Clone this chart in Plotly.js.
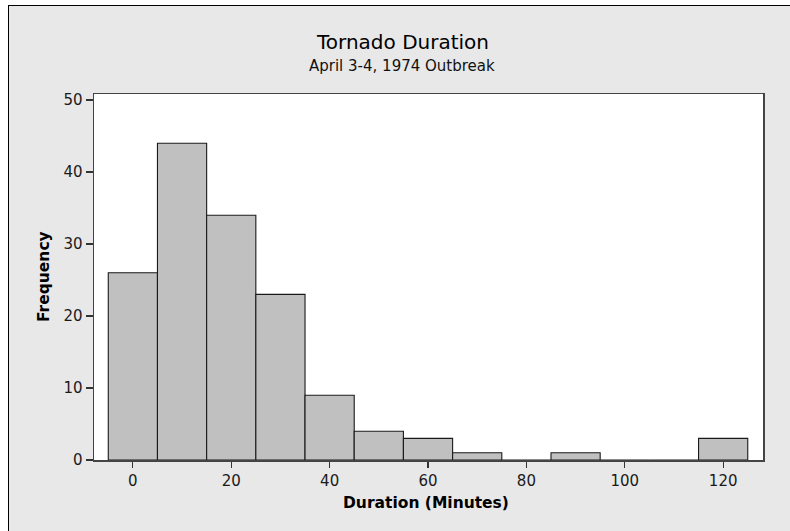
<!DOCTYPE html>
<html>
<head>
<meta charset="utf-8">
<script src="https://cdn.plot.ly/plotly-3.0.1.min.js"></script>
<style>
  html, body { margin: 0; padding: 0; background: #ffffff; width: 790px; height: 531px; overflow: hidden; }
  #panel { position: absolute; left: 8px; top: 5px; width: 782px; height: 526px;
           border-left: 1px solid #000; border-top: 1px solid #000; background: #e8e8e8; }
  #chart { width: 781px; height: 525px; }
</style>
</head>
<body>
<div id="panel"><div id="chart"></div></div>
<script>
const binCenters = [0, 10, 20, 30, 40, 50, 60, 70, 80, 90, 100, 110, 120];
const frequencies = [26, 44, 34, 23, 9, 4, 3, 1, 0, 1, 0, 0, 3];
const xTicks = [0, 20, 40, 60, 80, 100, 120];
const yTicks = [0, 10, 20, 30, 40, 50];
const titleText = "Tornado Duration";
const subtitleText = "April 3-4, 1974 Outbreak";
const xTitle = "Duration (Minutes)";
const yTitle = "Frequency";

const font = "DejaVu Sans, Tahoma, sans-serif";

const trace = {
  type: "bar",
  x: binCenters,
  y: frequencies,
  width: binCenters.map(() => 10),
  marker: { color: "#c0c0c0", line: { color: "#1a1a1a", width: 1.1 } },
  hoverinfo: "skip"
};

const layout = {
  width: 781, height: 525,
  margin: { l: 85, r: 27, t: 88, b: 71 },
  paper_bgcolor: "#e8e8e8",
  plot_bgcolor: "#ffffff",
  showlegend: false,
  bargap: 0,
  font: { family: font, size: 15, color: "#1a1a1a" },
  xaxis: {
    range: [-7.9, 128.1], tickvals: xTicks, ticktext: xTicks.map(String),
    ticks: "outside", ticklen: 6, tickwidth: 1.2, tickcolor: "#333",
    showline: true, linecolor: "#444", linewidth: 1.5, mirror: true,
    showgrid: false, zeroline: false, fixedrange: true,
    tickfont: { family: font, size: 15, color: "#1a1a1a" }
  },
  yaxis: {
    range: [0, 50.83], tickvals: yTicks, ticktext: yTicks.map(String),
    ticks: "outside", ticklen: 7, tickwidth: 1.2, tickcolor: "#333",
    showline: true, linecolor: "#444", linewidth: 1.5, mirror: true,
    showgrid: false, zeroline: false, fixedrange: true,
    tickfont: { family: font, size: 15, color: "#1a1a1a" }
  },
  annotations: [
    { text: titleText, xref: "paper", yref: "paper", x: 0.461, y: 1.142,
      xanchor: "center", yanchor: "middle", showarrow: false,
      font: { family: font, size: 20, color: "#000" } },
    { text: subtitleText, xref: "paper", yref: "paper", x: 0.461, y: 1.0765,
      xanchor: "center", yanchor: "middle", showarrow: false,
      font: { family: font, size: 15, color: "#111" } },
    { text: "<b>" + xTitle + "</b>", xref: "paper", yref: "paper", x: 0.496, y: -0.1175,
      xanchor: "center", yanchor: "middle", showarrow: false,
      font: { family: font, size: 15.5, color: "#000" } },
    { text: "<b>" + yTitle + "</b>", xref: "paper", yref: "paper", x: -0.0747, y: 0.5,
      xanchor: "center", yanchor: "middle", showarrow: false, textangle: -90,
      font: { family: font, size: 15.5, color: "#000" } }
  ]
};

Plotly.newPlot("chart", [trace], layout, { displayModeBar: false, staticPlot: true });
</script>
</body>
</html>
